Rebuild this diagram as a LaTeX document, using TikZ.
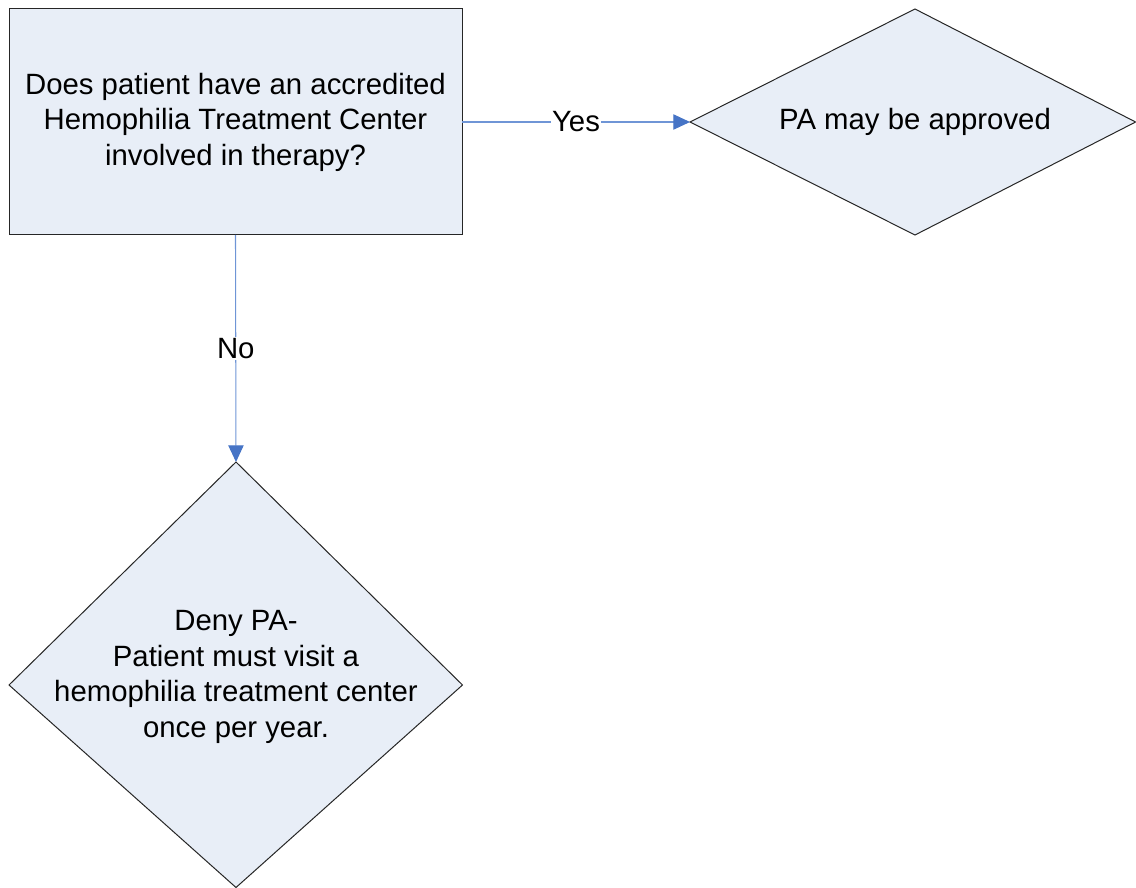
\documentclass[tikz,border=0pt]{standalone}
\usepackage{fontspec}
\setmainfont{Liberation Sans}
\usetikzlibrary{arrows.meta}
\definecolor{shapefill}{HTML}{E8EEF7}
\definecolor{linkcol}{HTML}{6F95D6}
\definecolor{tipcol}{HTML}{4674C6}
\begin{document}
\begin{tikzpicture}[x=0.75pt,y=-0.75pt,
  shapeline/.style={draw=black!85, fill=shapefill, line width=0.75pt},
  txt/.style={font=\fontsize{22}{26.6}\selectfont, align=center, text=black},
  link/.style={draw=linkcol, line width=0.8pt, -{Triangle[length=12.5pt,width=11.5pt,fill=tipcol,color=tipcol]}},
  lbl/.style={font=\fontsize{22}{26.6}\selectfont, fill=white, inner sep=1pt}]
\useasboundingbox (0,0) rectangle (1136,888);
\draw[shapeline] (9,9) rectangle (462,235);
\node[txt] (q) at (235.5,122) {Does patient have an accredited\\Hemophilia Treatment Center\\involved in therapy?};
\coordinate (qr) at (462,122);
\coordinate (qb) at (235.5,235);
\draw[shapeline] (690,122) -- (915,9) -- (1135.6,122) -- (915,235) -- cycle;
\node[txt] (yes) at (915,122) {PA may be approved};
\coordinate (yl) at (690,122);
\draw[shapeline] (236,462) -- (462.5,685) -- (236,887.5) -- (9,685) -- cycle;
\node[txt] (no) at (236,677) {Deny PA-\\Patient must visit a\\hemophilia treatment center\\once per year.};
\coordinate (nt) at (236,462);
\draw[link] (qr) -- (yl) node[lbl, pos=0.5] {Yes};
\draw[link] (qb) -- (nt) node[lbl, pos=0.5] {No};
\end{tikzpicture}
\end{document}
